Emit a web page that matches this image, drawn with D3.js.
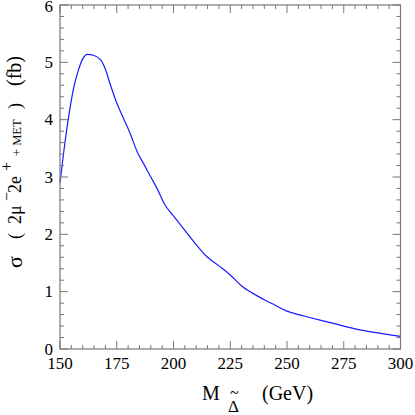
<!DOCTYPE html>
<html><head><meta charset="utf-8">
<script src="https://cdn.jsdelivr.net/npm/d3@7"></script>
<style>body{margin:0;background:#fff}svg{display:block}</style>
</head><body>
<script>
const massGeV = [150,152,154,156,158,160,162,165,168,170,172,175,178,181,184,187,190,193,196,200,205,210,215,220,225,230,235,240,245,250,255,260,270,280,290,300];
const sigmaFb = [2.9,3.55,4.1,4.55,4.85,5.06,5.14,5.12,5.04,4.88,4.63,4.29,4.02,3.75,3.44,3.22,3.0,2.78,2.53,2.32,2.07,1.82,1.6,1.45,1.29,1.1,0.97,0.86,0.76,0.66,0.6,0.55,0.45,0.35,0.28,0.22];
const xTickLabels = [150,175,200,225,250,275,300];
const yTickLabels = [0,1,2,3,4,5,6];

const W=415,H=415;
const FF='"Liberation Serif"';
const svg=d3.select("body").append("svg").attr("width",W).attr("height",H);
const x=d3.scaleLinear().domain([150,300]).range([60,400.5]);
const y=d3.scaleLinear().domain([0,6]).range([349,5]);
const frameCol="#777";

// curve
svg.append("path").datum(massGeV.map((m,i)=>[m,sigmaFb[i]]))
  .attr("fill","none").attr("stroke","#1a1aff").attr("stroke-width",1.2)
  .attr("d",d3.line().x(d=>x(d[0])).y(d=>y(d[1])).curve(d3.curveMonotoneX));

// frame
svg.append("rect").attr("x",60).attr("y",5).attr("width",340.5).attr("height",344)
  .attr("fill","none").attr("stroke",frameCol).attr("stroke-width",1.2);

const xMinor=d3.range(150,301,5), yMinor=d3.range(0,6.001,0.2).map(v=>+v.toFixed(1));
xMinor.forEach(v=>{
  const major = v%25===0; const L = major?8:4;
  svg.append("line").attr("x1",x(v)).attr("x2",x(v)).attr("y1",349).attr("y2",349-L).attr("stroke",frameCol);
  svg.append("line").attr("x1",x(v)).attr("x2",x(v)).attr("y1",5).attr("y2",5+L).attr("stroke",frameCol);
});
yMinor.forEach(v=>{
  const major = Math.abs(v-Math.round(v))<1e-6; const L = major?8:4;
  svg.append("line").attr("y1",y(v)).attr("y2",y(v)).attr("x1",60).attr("x2",60+L).attr("stroke",frameCol);
  svg.append("line").attr("y1",y(v)).attr("y2",y(v)).attr("x1",400.5).attr("x2",400.5-L).attr("stroke",frameCol);
});

// tick labels
svg.append("g").selectAll("text").data(xTickLabels).join("text")
  .attr("x",d=>x(d)).attr("y",369).attr("text-anchor","middle")
  .style("font-family",FF).attr("font-size",17).text(d=>d);
svg.append("g").selectAll("text").data(yTickLabels).join("text")
  .attr("x",53).attr("y",d=>Math.max(y(d)+5.5,12)).attr("text-anchor","end")
  .style("font-family",FF).attr("font-size",17).text(d=>d);

// x label
const xl=svg.append("g").attr("fill","#000");
function xt(txt,px,py,size){ xl.append("text").attr("x",px).attr("y",py).attr("font-size",size).style("font-family",FF).text(txt); }
xt("M",202,400,20);
xt("Δ",228,412,17);
xt("~",230,398,16);
xt("(GeV)",262,400,20);

// y label: pieces along a rotated baseline
const yl=svg.append("g").attr("fill","#000");
function piece(txt,startY,bx,size){
  yl.append("text").attr("transform",`translate(${bx},${startY}) rotate(-90)`)
    .attr("font-size",size).style("font-family",FF).text(txt);
}
piece("σ",268,22,22);
piece("(",239,21,18);
piece("2μ",224,21,18);
piece("−",201,12,16);
piece("2e",193,21,18);
piece("+",171,12,16);
piece("+ MET",156,21,12.5);
piece(")",109,21,18);
piece("(fb)",86,21,20);
</script>
</body></html>
